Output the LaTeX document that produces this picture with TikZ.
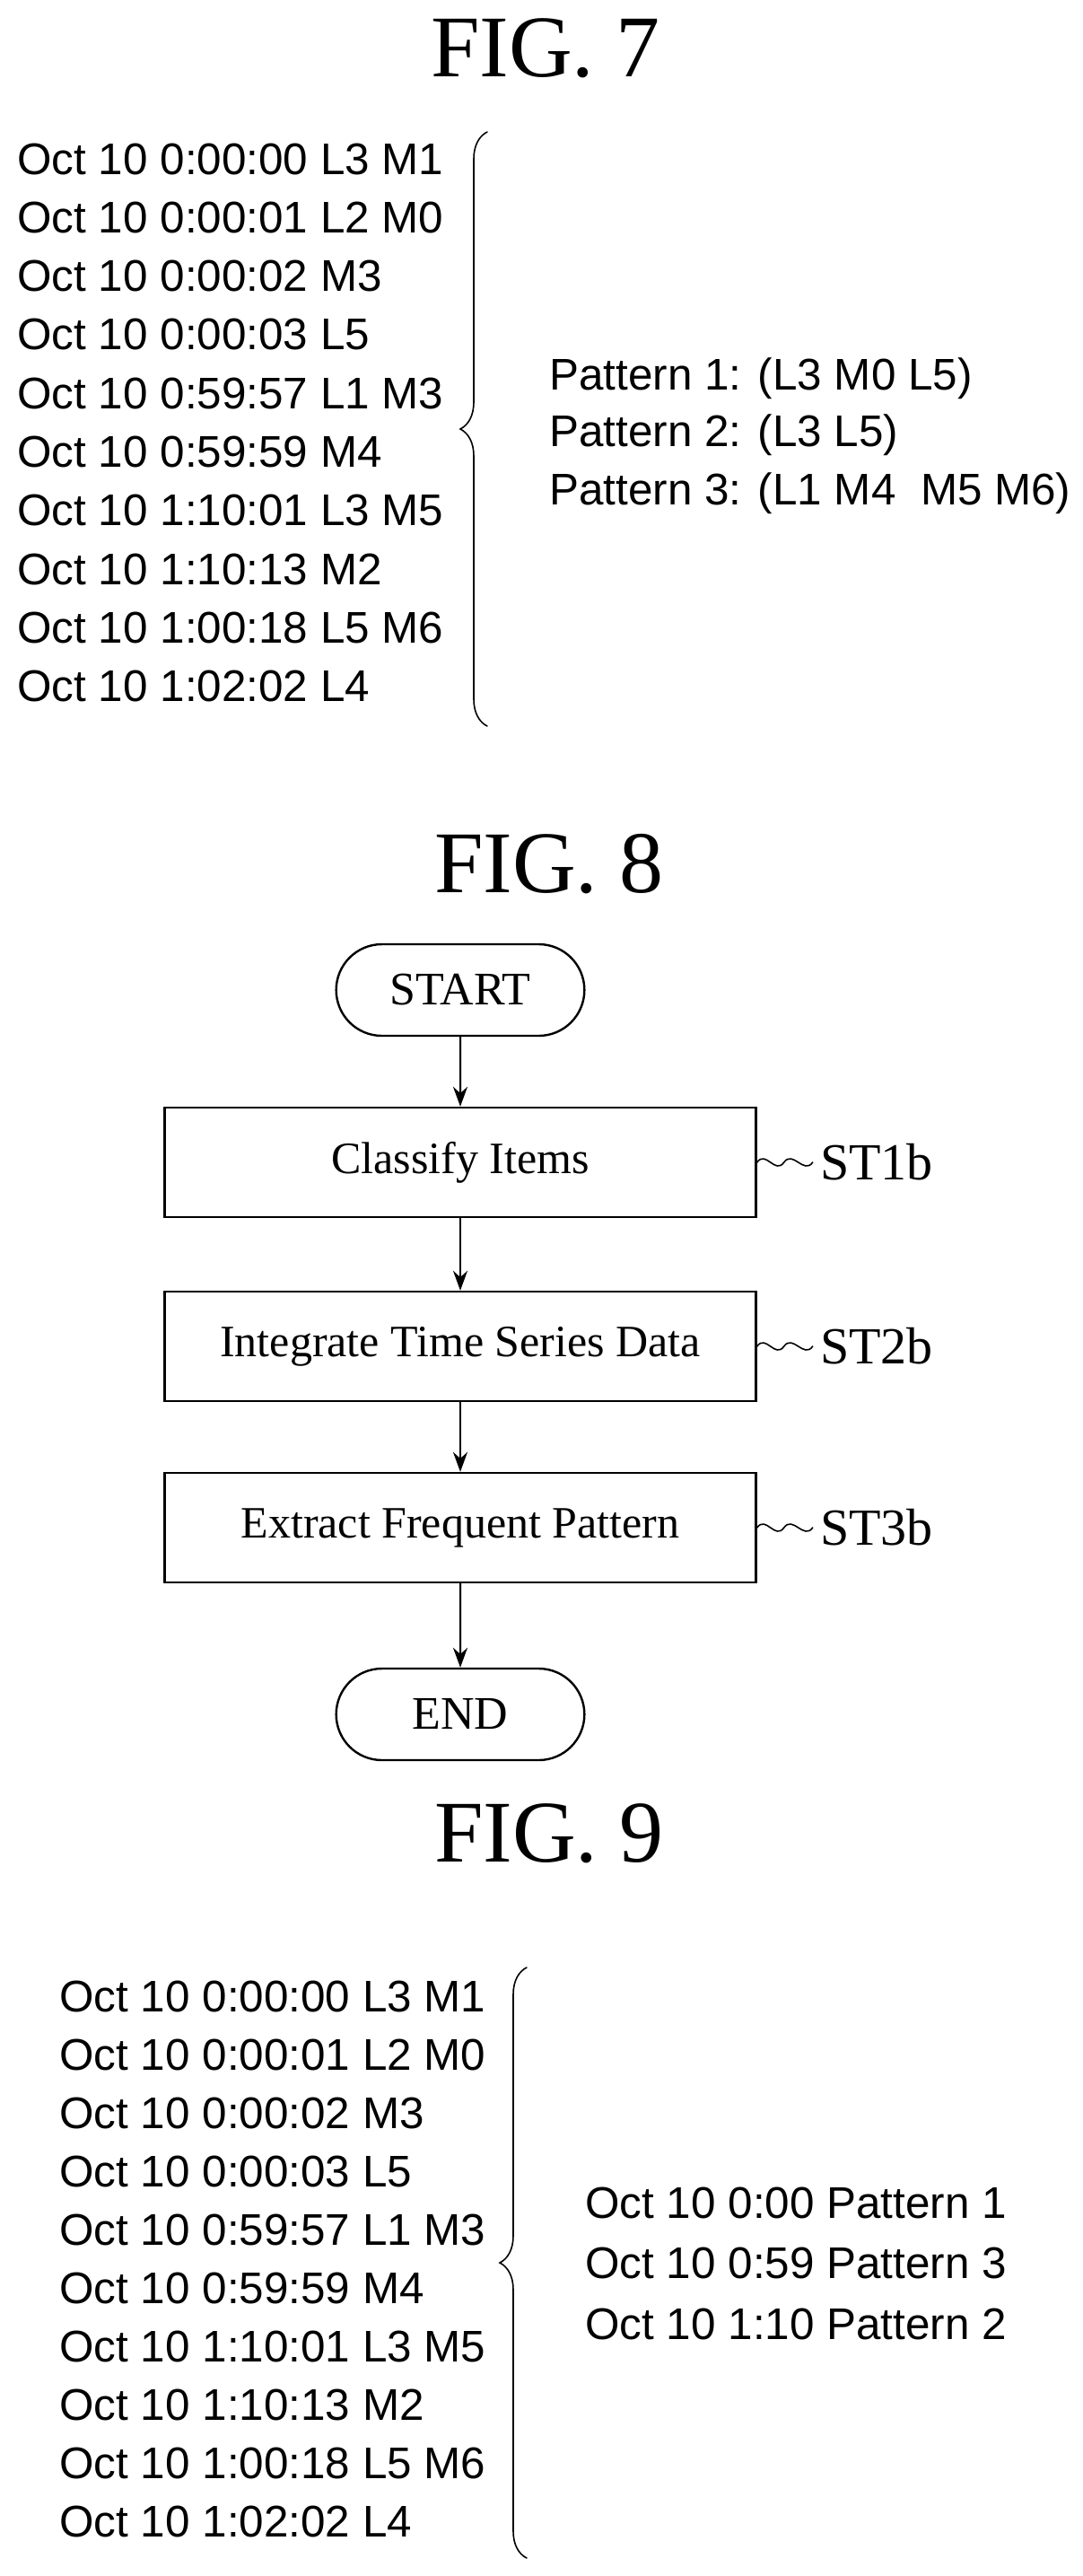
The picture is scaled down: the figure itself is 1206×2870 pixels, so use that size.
\documentclass[tikz,border=0pt]{standalone}
\usepackage{fontspec}
\setmainfont{Liberation Serif}
\setsansfont{Liberation Sans}
\usetikzlibrary{arrows.meta,positioning,decorations.pathreplacing,shapes.misc}

\begin{document}
\begin{tikzpicture}
  [x=0.5pt,y=-0.5pt,line cap=round,
  % Styles
  fig title/.style={font=\fontsize{49}{52}\selectfont,anchor=center},
  list item/.style={font=\sffamily\fontsize{24.7}{26}\selectfont,anchor=west,inner sep=0pt},
  step box/.style={draw,line width=1.2pt,minimum width=329.5pt,minimum height=61pt,
    font=\fontsize{25}{27}\selectfont},
  terminal/.style={draw,rounded rectangle,line width=1.2pt,minimum width=145pt,
    minimum height=51pt,font=\fontsize{26}{28}\selectfont},
  step label/.style={font=\fontsize{29}{31}\selectfont,anchor=west,inner sep=0pt},
  flow/.style={-{Stealth[length=11pt,width=8pt]},line width=1pt},
  group brace/.style={decorate,decoration={brace,mirror,amplitude=15pt,aspect=0.5},line width=0.8pt}]
  \useasboundingbox (0,0) rectangle (1206,2870);
  % FIG. 7
  \node[fig title] (fig7) at (608,54) {FIG. 7};
  \foreach \t [count=\i] in {0:00:00 L3 M1,0:00:01 L2 M0,0:00:02 M3,0:00:03 L5,0:59:57 L1 M3,
      0:59:59 M4,1:10:01 L3 M5,1:10:13 M2,1:00:18 L5 M6,1:02:02 L4}
    \node[list item] (a\i) at (19,{177+65.3*(\i-1)}) {Oct 10 \t};
  \coordinate (a top) at (543,147);
  \coordinate (a bottom) at (543,809);
  \draw[group brace] (a top) -- (a bottom);
  \node[list item] (p1) at (612,422) {Pattern 1: (L3 M0 L5)};
  \node[list item] (p2) at (612,485) {Pattern 2: (L3 L5)};
  \node[list item] (p3) at (612,550) {Pattern 3: (L1 M4~~M5 M6)};
  % FIG. 8
  \node[fig title] (fig8) at (612,963) {FIG. 8};
  \node[terminal] (start) at (513,1103) {START};
  \node[step box] (st1) at (513,1295) {Classify Items};
  \node[step box] (st2) at (513,1500) {Integrate Time Series Data};
  \node[step box] (st3) at (513,1702) {Extract Frequent Pattern};
  \node[terminal] (end) at (513,1910) {END};
  \draw[flow] (start) -- (st1);
  \draw[flow] (st1) -- (st2);
  \draw[flow] (st2) -- (st3);
  \draw[flow] (st3) -- (end);
  \foreach \s/\l in {st1/ST1b,st2/ST2b,st3/ST3b} {
    \node[step label] (\s lab) at ([xshift=35pt]\s.east) {\l};
    \draw[line width=0.8pt] (\s.east) .. controls +(10,-14) and +(-10,14) .. ([xshift=15pt]\s.east)
      .. controls +(10,-14) and +(-10,14) .. ([xshift=31pt]\s.east);
  }
  % FIG. 9
  \node[fig title] (fig9) at (612,2043) {FIG. 9};
  \foreach \t [count=\i] in {0:00:00 L3 M1,0:00:01 L2 M0,0:00:02 M3,0:00:03 L5,0:59:57 L1 M3,
      0:59:59 M4,1:10:01 L3 M5,1:10:13 M2,1:00:18 L5 M6,1:02:02 L4}
    \node[list item] (b\i) at (66,{2224+65.1*(\i-1)}) {Oct 10 \t};
  \coordinate (b top) at (587,2192);
  \coordinate (b bottom) at (587,2850);
  \draw[group brace] (b top) -- (b bottom);
  \node[list item] (q1) at (652,2454) {Oct 10 0:00 Pattern 1};
  \node[list item] (q2) at (652,2521) {Oct 10 0:59 Pattern 3};
  \node[list item] (q3) at (652,2589) {Oct 10 1:10 Pattern 2};
\end{tikzpicture}
\end{document}
